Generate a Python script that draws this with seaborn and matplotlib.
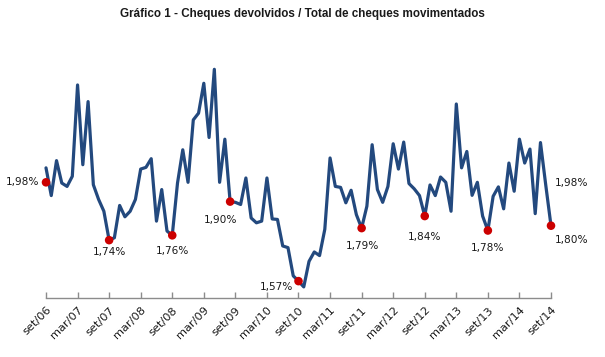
import numpy as np
import pandas as pd
import matplotlib
matplotlib.use('Agg')
import matplotlib.pyplot as plt
import seaborn as sns

# monthly series set/06 .. set/14 (%)
valores = [2.04, 1.925, 2.07, 1.977, 1.963, 2.005, 2.384, 2.053, 2.315, 1.97,
           1.909, 1.86, 1.74, 1.75, 1.884, 1.837, 1.86, 1.909, 2.035, 2.042,
           2.078, 1.819, 1.95, 1.778, 1.76, 1.977, 2.115, 1.98, 2.239, 2.267,
           2.391, 2.166, 2.449, 1.98, 2.159, 1.90, 1.897, 1.888, 1.998, 1.832,
           1.812, 1.819, 1.998, 1.828, 1.826, 1.716, 1.709, 1.592, 1.57, 1.546,
           1.652, 1.691, 1.676, 1.785, 2.081, 1.963, 1.959, 1.895, 1.947, 1.846,
           1.79, 1.881, 2.136, 1.95, 1.897, 1.963, 2.14, 2.035, 2.147, 1.975,
           1.953, 1.925, 1.84, 1.969, 1.925, 2.002, 1.98, 1.86, 2.305, 2.04,
           2.108, 1.926, 1.98, 1.84, 1.78, 1.922, 1.961, 1.87, 2.06, 1.943,
           2.159, 2.06, 2.118, 1.85, 2.145, 1.969, 1.80]

anos = ['06', '07', '08', '09', '10', '11', '12', '13', '14']
rotulos = []
for a in anos:
    if a != '06':
        rotulos.append('mar/' + a)
    rotulos.append('set/' + a)

# highlighted points (month index, value)
destaque_idx = [0, 12, 24, 35, 48, 60, 72, 84, 96]
destaque_val = [1.98, 1.74, 1.76, 1.90, 1.57, 1.79, 1.84, 1.78, 1.80]
# label offsets in pixels (dx, dy) and alignment
offsets = [(-7, 0, 'right'), (0, -12, 'center'), (0, -16, 'center'),
           (-10, -18, 'center'), (-5, -6, 'right'), (1, -18, 'center'),
           (0, -21, 'center'), (0, -17, 'center'), (4, -14, 'left')]
nivel_ref = 1.98  # reference level written at the right

df = pd.DataFrame({'mes': np.arange(len(valores)), 'valor': valores})
pts = pd.DataFrame({'mes': destaque_idx, 'valor': destaque_val})

sns.set_style('white')
plt.rcParams['font.family'] = ['DejaVu Sans']

W, H = 605, 357
fig = plt.figure(figsize=(W / 100, H / 100), dpi=100)
ax = fig.add_axes([46 / W, (H - 298) / H, (551 - 46) / W, (298 - 57) / H])

sns.lineplot(data=df, x='mes', y='valor', ax=ax, color='#23497E',
             linewidth=2.3, clip_on=False)
sns.scatterplot(data=pts, x='mes', y='valor', ax=ax, color='#CC0000',
                s=38, edgecolor='none', zorder=5, clip_on=False)

fmt = lambda v: f'{v:.2f}'.replace('.', ',') + '%'
for i, v, (dx, dy, ha) in zip(destaque_idx, destaque_val, offsets):
    ax.annotate(fmt(v), (i, v), xytext=(dx * 0.72, dy * 0.72),
                textcoords='offset points', ha=ha, va='center',
                fontsize=7.6, color='#1a1a1a')
ax.annotate(fmt(nivel_ref), (96, nivel_ref), xytext=(4 * 0.72, -1 * 0.72),
            textcoords='offset points', ha='left', va='center',
            fontsize=7.6, color='#1a1a1a')

ax.set_xlim(0, 96)
ax.set_ylim(1.50, 2.50)
ax.set_xticks(np.arange(0, 97, 6))
ax.set_xticklabels(rotulos, rotation=45, ha='right', rotation_mode='anchor',
                   fontsize=8.2, color='#1a1a1a')
ax.set_yticks([])
ax.set_xlabel('')
ax.set_ylabel('')
for s in ['top', 'right', 'left']:
    ax.spines[s].set_visible(False)
ax.spines['bottom'].set_color('#8c8c8c')
ax.spines['bottom'].set_linewidth(1)
ax.tick_params(axis='x', direction='in', length=4, width=1, color='#8c8c8c',
               pad=5, bottom=True)

fig.text(0.5, 1 - 14 / H,
         'Gráfico 1 - Cheques devolvidos / Total de cheques movimentados',
         ha='center', va='center', fontsize=8.4, fontweight='bold',
         family=['Liberation Sans', 'DejaVu Sans'], color='#1a1a1a')

fig.savefig('out.png', dpi=100, facecolor='white')
